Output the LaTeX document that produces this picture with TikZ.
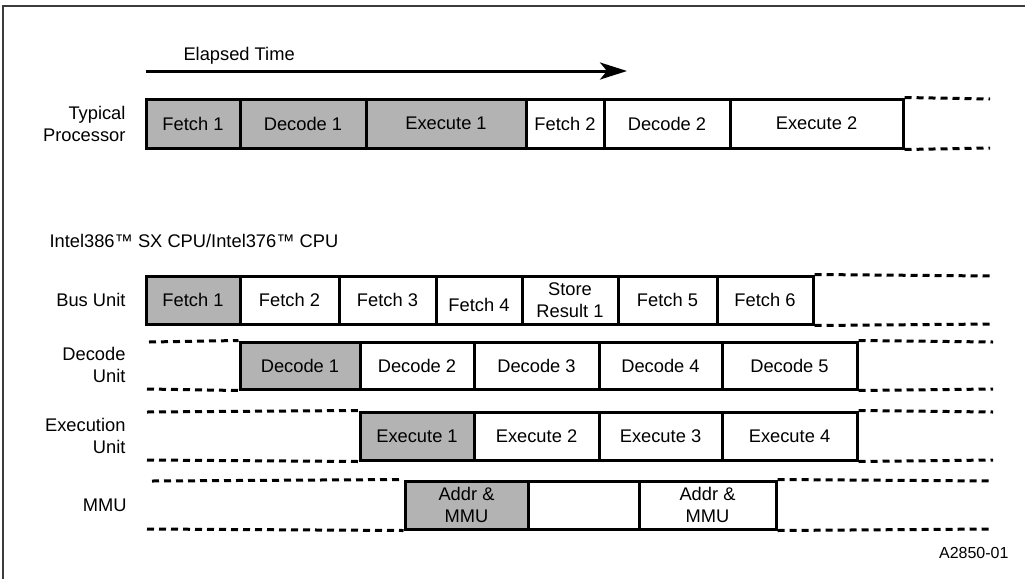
\documentclass[tikz,border=0pt]{standalone}
\usepackage{fontspec}
\setmainfont{Liberation Sans}
\usetikzlibrary{arrows.meta}
\definecolor{cellgray}{RGB}{179,179,179}
\definecolor{framegray}{RGB}{60,60,60}
\begin{document}
\begin{tikzpicture}[x=1pt,y=-1pt,
  every node/.style={font=\fontsize{18.3}{21.5}\selectfont},
  cell/.style={draw=black, line width=3pt, inner sep=0pt, align=center},
  shaded/.style={cell, fill=cellgray},
  plain/.style={cell, fill=white},
  ext/.style={line width=3pt, dash pattern=on 7pt off 5pt},
  rowlabel/.style={anchor=east, align=right},
  frameline/.style={line width=2pt, draw=framegray}]
\useasboundingbox (0,0) rectangle (1025,579);
% frame
\coordinate (fa) at (3,579);
\coordinate (fb) at (3,6);
\coordinate (fc) at (1025,6);
\draw[frameline] (fa) -- (fb) -- (fc);

% elapsed time arrow
\node[anchor=west] (et) at (180,56) {Elapsed Time};
\coordinate (as) at (146,71);
\coordinate (ae) at (627,71);
\draw[line width=3pt, -{Stealth[length=27pt,width=17pt,inset=7pt]}] (as) -- (ae);

% Typical processor
\node[rowlabel] (ltp) at (129,124) {Typical\\Processor};
\node[shaded, minimum width=94pt, minimum height=49pt] (t1) at (193,123.5) {Fetch 1};
\node[shaded, minimum width=126pt, minimum height=49pt] (t2) at (303,123.5) {Decode 1};
\node[shaded, minimum width=160pt, minimum height=49pt] (t3) at (446,123.5) {Execute 1};
\node[plain, minimum width=78pt, minimum height=49pt] (t4) at (565,123.5) {Fetch 2};
\node[plain, minimum width=126pt, minimum height=49pt] (t5) at (667,123.5) {Decode 2};
\node[plain, minimum width=173pt, minimum height=49pt] (t6) at (816.5,123.5) {Execute 2};
\coordinate (te1) at (990,99);
\coordinate (te2) at (990,148);
\draw[ext] (t6.north east) -- (te1);
\draw[ext] (t6.south east) -- (te2);

% Intel label
\node[anchor=west] (intel) at (46,241) {Intel386™ SX CPU/Intel376™ CPU};

% Bus unit
\node[rowlabel] (lbu) at (129,300) {Bus Unit};
\node[shaded, minimum width=94pt, minimum height=48pt] (b1) at (193,300) {Fetch 1};
\node[plain, minimum width=99pt, minimum height=48pt] (b2) at (289.5,300) {Fetch 2};
\node[plain, minimum width=97pt, minimum height=48pt] (b3) at (387.5,300) {Fetch 3};
\node[plain, minimum width=86pt, minimum height=48pt] (b4) at (479,300) {\raisebox{-5pt}[\height][\depth]{Fetch 4}};
\node[plain, minimum width=96pt, minimum height=48pt] (b5) at (570,300) {Store\\Result 1};
\node[plain, minimum width=99pt, minimum height=48pt] (b6) at (667.5,300) {Fetch 5};
\node[plain, minimum width=96pt, minimum height=48pt] (b7) at (765,300) {Fetch 6};
\coordinate (be1) at (993,276);
\coordinate (be2) at (993,324);
\draw[ext] (b7.north east) -- (be1);
\draw[ext] (b7.south east) -- (be2);

% Decode unit
\node[rowlabel] (ldu) at (129,365) {Decode\\Unit};
\node[shaded, minimum width=120pt, minimum height=47pt] (d1) at (300,365.5) {Decode 1};
\node[plain, minimum width=114pt, minimum height=47pt] (d2) at (417,365.5) {Decode 2};
\node[plain, minimum width=125pt, minimum height=47pt] (d3) at (536.5,365.5) {Decode 3};
\node[plain, minimum width=123pt, minimum height=47pt] (d4) at (660.5,365.5) {Decode 4};
\node[plain, minimum width=135pt, minimum height=47pt] (d5) at (789.5,365.5) {Decode 5};
\coordinate (ds1) at (149,342);
\coordinate (ds2) at (147,389);
\draw[ext] (ds1) -- (d1.north west);
\draw[ext] (ds2) -- (d1.south west);
\coordinate (de1) at (993,342);
\coordinate (de2) at (993,389);
\draw[ext] (d5.north east) -- (de1);
\draw[ext] (d5.south east) -- (de2);

% Execution unit
\node[rowlabel] (leu) at (129,436) {Execution\\Unit};
\node[shaded, minimum width=114pt, minimum height=48pt] (e1) at (417,436) {Execute 1};
\node[plain, minimum width=125pt, minimum height=48pt] (e2) at (536.5,436) {Execute 2};
\node[plain, minimum width=123pt, minimum height=48pt] (e3) at (660.5,436) {Execute 3};
\node[plain, minimum width=135pt, minimum height=48pt] (e4) at (789.5,436) {Execute 4};
\coordinate (es1) at (147,412);
\coordinate (es2) at (147,460);
\draw[ext] (es1) -- (e1.north west);
\draw[ext] (es2) -- (e1.south west);
\coordinate (ee1) at (993,412);
\coordinate (ee2) at (993,460);
\draw[ext] (e4.north east) -- (ee1);
\draw[ext] (e4.south east) -- (ee2);

% MMU
\node[rowlabel] (lmu) at (130,505) {MMU};
\node[shaded, minimum width=123pt, minimum height=48pt] (m1) at (466.5,505) {Addr \&\\MMU};
\node[plain, minimum width=111pt, minimum height=48pt] (m2) at (583.5,505) {};
\node[plain, minimum width=137pt, minimum height=48pt] (m3) at (707.5,505) {Addr \&\\MMU};
\coordinate (ms1) at (152,481);
\coordinate (ms2) at (147,529);
\draw[ext] (ms1) -- (m1.north west);
\draw[ext] (ms2) -- (m1.south west);
\coordinate (me1) at (993,481);
\coordinate (me2) at (993,529);
\draw[ext] (m3.north east) -- (me1);
\draw[ext] (m3.south east) -- (me2);

% figure id
\node[anchor=east, font=\fontsize{16}{19}\selectfont] (fid) at (1012,553) {A2850-01};
\end{tikzpicture}
\end{document}
